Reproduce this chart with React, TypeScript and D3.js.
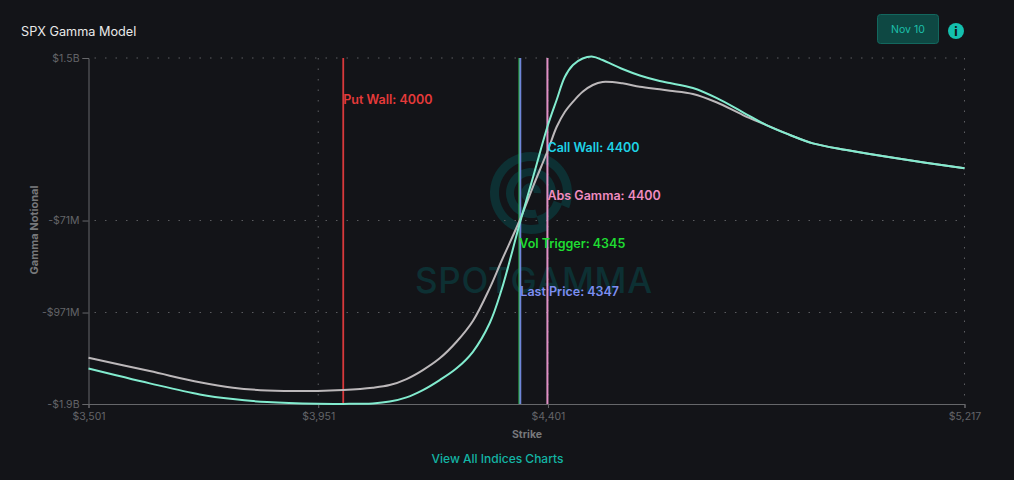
import React, { useEffect, useRef } from "react";
import * as d3 from "d3";

// strike grid the curves were read on
const strikes = [
  3501, 3621, 3719, 3784, 3851, 3950, 4000, 4058, 4091, 4124, 4156, 4189, 4222, 4254, 4287, 4310,
  4346, 4373, 4401, 4418, 4434, 4450, 4469, 4489, 4508, 4547, 4581, 4620, 4640, 4685, 4731, 4783,
  4829, 4875, 4920, 4986, 5084, 5217,
];
// $M
const gammaAll = [
  -1519, -1664, -1772, -1818, -1847, -1864, -1865, -1860, -1842, -1801, -1730, -1632, -1517, -1355, -1074, -751,
  -96, 374, 863, 1108, 1333, 1450, 1514, 1532, 1499, 1411, 1348, 1294, 1274, 1225, 1128, 988,
  863, 766, 684, 619, 538, 440,
];
const gammaEx = [
  -1414, -1544, -1654, -1707, -1733, -1739, -1730, -1707, -1681, -1622, -1534, -1419, -1257, -1054, -732, -467,
  -66, 276, 619, 844, 991, 1091, 1189, 1255, 1284, 1271, 1238, 1213, 1199, 1167, 1086, 961,
  863, 766, 684, 619, 538, 440,
];

const xTicks = [3501, 3951, 4401, 5217];
const yTicks = [-1866, -971, -71, 1519];
const yTickLabels = ["-$1.9B", "-$971M", "-$71M", "$1.5B"];

const levelNames = ["Put Wall", "Call Wall", "Abs Gamma", "Vol Trigger", "Last Price"];
const levelValues = [4000, 4400, 4400, 4345, 4347];
const levelColors = ["#e53a3a", "#1fd3e6", "#f08cc0", "#1fdc32", "#7d8ef2"];
const levelLines = ["#d8393b", "#3ec6d8", "#e08fc4", "#2fb84f", "#6f86d8"];
const levelWidths = [1.8, 1, 2, 1.8, 1.8];
const levelLabelY = [101, 148.5, 196.5, 244.5, 292.5];

const W = 1014;
const H = 480;
const margin = { top: 58, right: 49.5, bottom: 76, left: 88.5 };

const App: React.FC = () => {
  const svgRef = useRef<SVGSVGElement>(null);

  useEffect(() => {
    if (!svgRef.current) return;
    const svg = d3.select(svgRef.current);
    svg.selectAll("*").remove();

    const fontFamily = "Inter, sans-serif";
    svg.attr("font-family", fontFamily);

    svg.append("rect").attr("width", W).attr("height", H).attr("fill", "#131418");

    const x = d3.scaleLinear().domain([3501, 5217]).range([margin.left, W - margin.right]);
    const y = d3.scaleLinear().domain([-1866, 1519]).range([H - margin.bottom, margin.top]);

    // Watermark
    const mark = svg.append("g").attr("fill", "#0d3033");
    const logo = mark.append("g").attr("transform", "translate(531,193)");
    const arc = d3.arc<{ r0: number; r1: number; a0: number; a1: number }>()
      .innerRadius(d => d.r0)
      .outerRadius(d => d.r1)
      .startAngle(d => d.a0)
      .endAngle(d => d.a1);
    logo.selectAll("path")
      .data([
        { r0: 32, r1: 41, a0: -3.6, a1: 1.95 },
        { r0: 17, r1: 25, a0: -3.4, a1: 1.6 },
        { r0: 3, r1: 10, a0: -2.6, a1: 1.6 },
        { r0: 24, r1: 33, a0: 1.9, a1: 2.9 },
      ])
      .enter()
      .append("path")
      .attr("d", d => arc(d));
    mark.append("text")
      .attr("x", 415)
      .attr("y", 293)
      .attr("font-size", 35)
      .attr("font-weight", 500)
      .attr("textLength", 237)
      .attr("lengthAdjust", "spacing")
      .text("SPOTGAMMA");

    // Grid lines
    const gridColor = "#5c5d61";
    svg.append("g")
      .selectAll("line")
      .data(yTicks.slice(1))
      .enter()
      .append("line")
      .attr("x1", margin.left + 6)
      .attr("x2", W - margin.right)
      .attr("y1", d => y(d))
      .attr("y2", d => y(d))
      .attr("stroke", gridColor)
      .attr("stroke-dasharray", "1.5,9");
    svg.append("g")
      .selectAll("line")
      .data(xTicks.slice(1))
      .enter()
      .append("line")
      .attr("x1", d => x(d))
      .attr("x2", d => x(d))
      .attr("y1", margin.top)
      .attr("y2", H - margin.bottom)
      .attr("stroke", gridColor)
      .attr("stroke-dasharray", "1.5,9");

    // Axes
    const xAxis = d3.axisBottom(x)
      .tickValues(xTicks)
      .tickSize(4)
      .tickFormat(d => "$" + d3.format(",")(d as number));
    const yAxis = d3.axisLeft(y)
      .tickValues(yTicks)
      .tickSize(6)
      .tickFormat((_, i) => yTickLabels[i]);

    const xg = svg.append("g")
      .attr("transform", `translate(0,${H - margin.bottom})`)
      .call(xAxis);
    const yg = svg.append("g")
      .attr("transform", `translate(${margin.left},0)`)
      .call(yAxis);
    [xg, yg].forEach(g => {
      g.attr("font-family", fontFamily).attr("font-size", 10.5);
      g.selectAll(".domain").attr("stroke", "#66676a");
      g.selectAll(".tick line").attr("stroke", "#66676a");
      g.selectAll("text").attr("fill", "#636468");
    });
    xg.selectAll("text").attr("dy", "0.9em");

    // Level lines
    levelValues.forEach((v, i) => {
      svg.append("line")
        .attr("x1", x(v))
        .attr("x2", x(v))
        .attr("y1", margin.top)
        .attr("y2", H - margin.bottom)
        .attr("stroke", levelLines[i])
        .attr("stroke-width", levelWidths[i]);
    });

    // Curves
    const line = d3.line<number>()
      .x((_, i) => x(strikes[i]))
      .y(d => y(d))
      .curve(d3.curveCatmullRom.alpha(0.5));
    svg.append("path")
      .attr("d", line(gammaEx))
      .attr("fill", "none")
      .attr("stroke", "#bcb8ba")
      .attr("stroke-width", 2);
    svg.append("path")
      .attr("d", line(gammaAll))
      .attr("fill", "none")
      .attr("stroke", "#82eccf")
      .attr("stroke-width", 2);

    // Level labels
    levelNames.forEach((name, i) => {
      svg.append("text")
        .attr("x", x(levelValues[i]))
        .attr("y", levelLabelY[i])
        .attr("dominant-baseline", "middle")
        .attr("fill", levelColors[i])
        .attr("font-size", 12.5)
        .attr("font-weight", 600)
        .text(`${name}: ${levelValues[i]}`);
    });

    // Axis titles
    svg.append("text")
      .attr("x", 527)
      .attr("y", 438)
      .attr("text-anchor", "middle")
      .attr("font-size", 10.5)
      .attr("font-weight", 700)
      .attr("fill", "#77787b")
      .text("Strike");
    svg.append("text")
      .attr("transform", "translate(38,230) rotate(-90)")
      .attr("text-anchor", "middle")
      .attr("font-size", 11)
      .attr("font-weight", 700)
      .attr("fill", "#77787b")
      .text("Gamma Notional");

    // Header
    svg.append("text")
      .attr("x", 21)
      .attr("y", 36)
      .attr("font-size", 12.7)
      .attr("fill", "#e9e9e9")
      .text("SPX Gamma Model");
    svg.append("rect")
      .attr("x", 877.5)
      .attr("y", 14.5)
      .attr("width", 61)
      .attr("height", 29)
      .attr("rx", 3)
      .attr("fill", "#0e4843")
      .attr("stroke", "#13675e");
    svg.append("text")
      .attr("x", 908)
      .attr("y", 33)
      .attr("text-anchor", "middle")
      .attr("font-size", 10.5)
      .attr("fill", "#1cbfaa")
      .text("Nov 10");
    svg.append("circle").attr("cx", 956).attr("cy", 31).attr("r", 8).attr("fill", "#14c0ae");
    svg.append("text")
      .attr("x", 956)
      .attr("y", 35.5)
      .attr("text-anchor", "middle")
      .attr("font-size", 12)
      .attr("font-weight", 800)
      .attr("fill", "#131418")
      .text("i");

    // Footer link
    svg.append("text")
      .attr("x", 497.5)
      .attr("y", 463)
      .attr("text-anchor", "middle")
      .attr("font-size", 12)
      .attr("font-weight", 500)
      .attr("fill", "#13b5a4")
      .text("View All Indices Charts");
  }, []);

  return (
    <svg
      ref={svgRef}
      width={W}
      height={H}
      style={{ position: "fixed", left: 0, top: 0, display: "block" }}
    />
  );
};

export default App;
